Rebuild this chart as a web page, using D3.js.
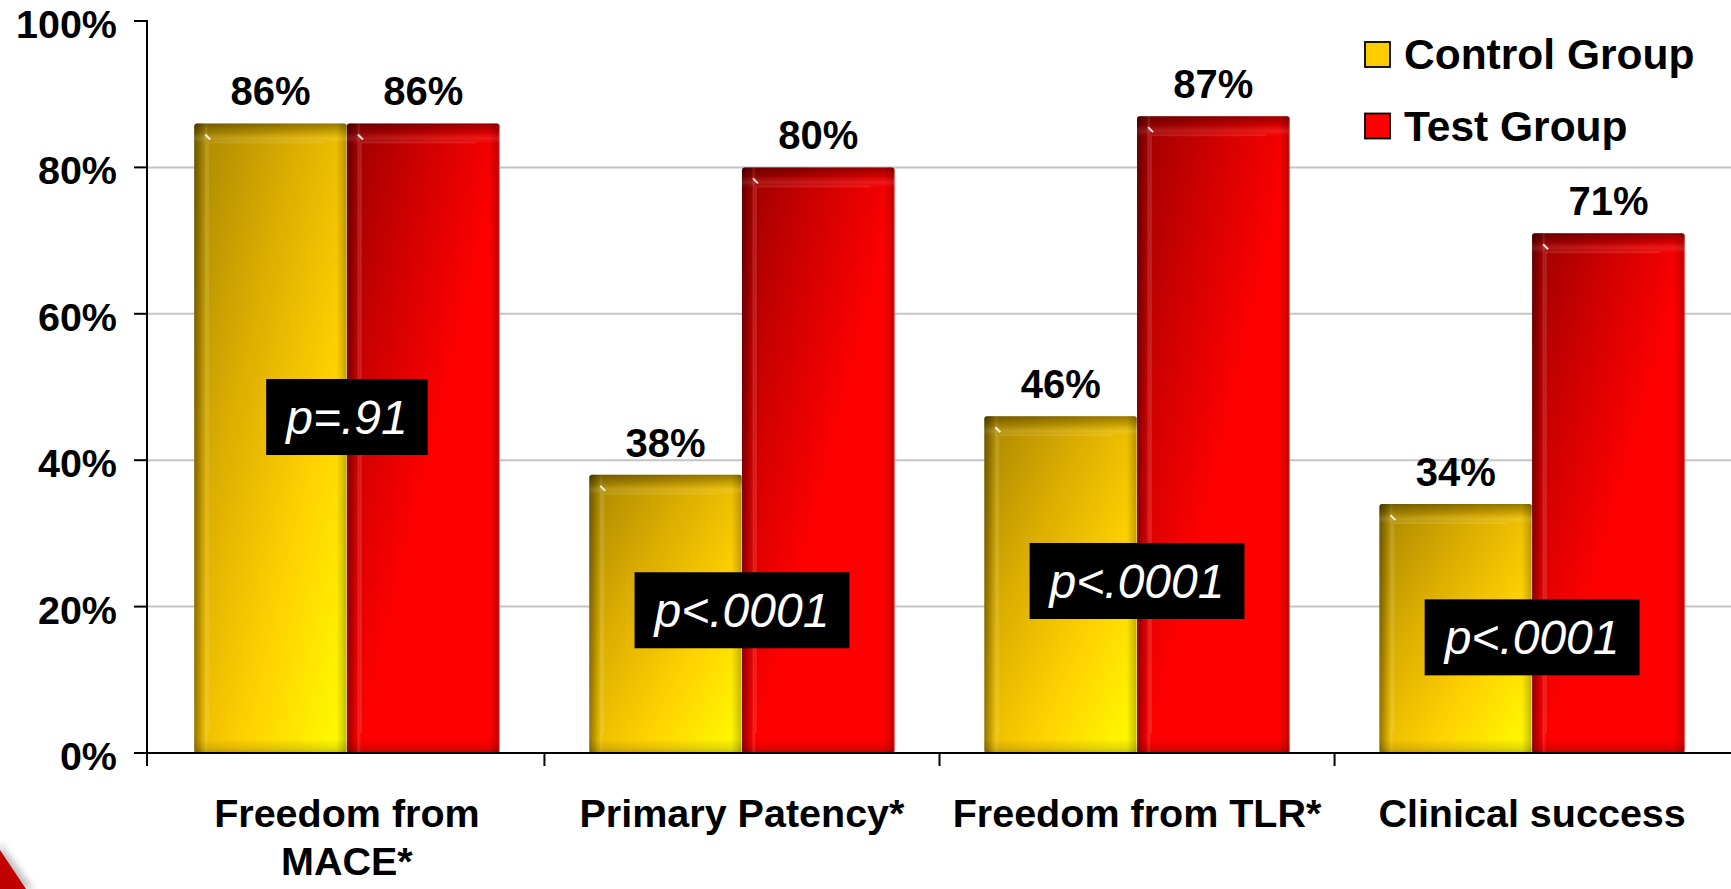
<!DOCTYPE html>
<html>
<head>
<meta charset="utf-8">
<script src="https://cdn.jsdelivr.net/npm/d3@7/dist/d3.min.js"></script>
<style>
  html, body { margin: 0; padding: 0; background: #fff; }
  svg { display: block; font-family: "Liberation Sans", Arial, Helvetica, sans-serif; }
</style>
</head>
<body>
<svg id="chart" width="1731" height="889"></svg>
<script>
// Outcome categories and percentages per group
const categories = [["Freedom from", "MACE*"], ["Primary Patency*"], ["Freedom from TLR*"], ["Clinical success"]];
const seriesNames = ["Control Group", "Test Group"];
const controlValues = [86, 38, 46, 34];
const testValues = [86, 80, 87, 71];
const yTicks = [0, 20, 40, 60, 80, 100];
const gridTicks = [20, 40, 60, 80];
const pLabels = [{ p: "p", rest: "=.91" }, { p: "p", rest: "<.0001" }, { p: "p", rest: "<.0001" }, { p: "p", rest: "<.0001" }];
// vertical level (in % units) at which each p-value box is centred
const pBoxLevel = [45.9, 19.5, 23.5, 15.8];

const W = 1731, H = 889;
const svg = d3.select("#chart");
const FONT = '"Liberation Sans", Arial, Helvetica, sans-serif';

const plotLeft = 147, plotRight = 1731, plotTop = 21, plotBottom = 753;
const y = d3.scaleLinear().domain([0, 100]).range([plotBottom, plotTop]);
const catKeys = categories.map(c => c.join(" "));
const x0 = d3.scaleBand().domain(catKeys).range([plotLeft + 1, plotRight]).paddingInner(0.227).paddingOuter(0.117);
const x1 = d3.scaleBand().domain(seriesNames).range([0, x0.bandwidth()]).padding(0);

// ---------- gradients ----------
const defs = svg.append("defs");
function linGrad(id, ax, ay, bx, by, stops) {
  const g = defs.append("linearGradient").attr("id", id)
    .attr("x1", ax).attr("y1", ay).attr("x2", bx).attr("y2", by);
  stops.forEach(s => g.append("stop").attr("offset", s[0]).attr("stop-color", s[1]).attr("stop-opacity", s[2] == null ? 1 : s[2]));
}
linGrad("baseControl", 0, 0, 1, 1, [[0, "#a88600"], [0.35, "#dcae00"], [0.65, "#ffd000"], [1, "#ffff00"]]);
linGrad("baseTest", 0, 0, 1, 1, [[0, "#9a0000"], [0.3, "#d40000"], [0.55, "#ff0000"], [1, "#ff0000"]]);
linGrad("sideShade", 0, 0, 1, 0, [
  [0, "#000", 0.38], [0.035, "#000", 0.2], [0.06, "#000", 0.05], [0.075, "#fff", 0.14], [0.095, "#fff", 0],
  [0.93, "#000", 0], [0.965, "#000", 0.12], [0.99, "#000", 0.22], [1, "#fff", 0.25]]);
linGrad("topShade", 0, 0, 0, 1, [[0, "#000", 0.35], [0.45, "#000", 0.12], [0.75, "#fff", 0.1], [1, "#fff", 0]]);
linGrad("bottomShade", 0, 0, 0, 1, [[0, "#000", 0], [0.6, "#000", 0.1], [1, "#000", 0.22]]);

defs.append("filter").attr("id", "soft").attr("x", "-50%").attr("y", "-50%").attr("width", "200%").attr("height", "200%")
  .append("feGaussianBlur").attr("stdDeviation", 3);

// ---------- decorative swoosh at lower-left corner ----------
svg.append("path").attr("d", "M0,842 Q14,862 34,889 L0,889 Z").attr("fill", "#888").attr("opacity", 0.5).attr("filter", "url(#soft)");
svg.append("path").attr("d", "M0,850 Q12,868 26,889 L0,889 Z").attr("fill", "#c00000");

// ---------- gridlines ----------
svg.append("g").selectAll("line").data(gridTicks).join("line")
  .attr("x1", plotLeft).attr("x2", W).attr("y1", d => y(d)).attr("y2", d => y(d))
  .attr("stroke", "#c4c4c4").attr("stroke-width", 2);

// ---------- bars ----------
const rows = catKeys.map((k, i) => ({ key: k, vals: [controlValues[i], testValues[i]] }));
const groups = svg.append("g").selectAll("g").data(rows).join("g")
  .attr("transform", d => `translate(${x0(d.key)},0)`);

const bars = groups.selectAll("g.bar").data(d => d.vals.map((v, j) => ({ v, s: seriesNames[j], j }))).join("g")
  .attr("class", "bar")
  .attr("transform", d => `translate(${x1(d.s)},${y(d.v)})`);

const bw = x1.bandwidth();
const barH = d => y(0) - y(d.v);
bars.append("rect").attr("width", bw).attr("height", barH).attr("rx", 3)
  .attr("fill", d => d.j === 0 ? "url(#baseControl)" : "url(#baseTest)");
bars.append("rect").attr("width", bw).attr("height", barH).attr("rx", 3).attr("fill", "url(#sideShade)");
bars.append("rect").attr("width", bw).attr("height", 20).attr("rx", 3).attr("fill", "url(#topShade)");
bars.append("rect").attr("y", d => barH(d) - 14).attr("width", bw).attr("height", 14).attr("fill", "url(#bottomShade)");
// inner bevel highlight lines
bars.append("line").attr("x1", 14).attr("x2", bw - 24).attr("y1", 19).attr("y2", 19)
  .attr("stroke", "#fff").attr("stroke-opacity", 0.1).attr("stroke-width", 2);
bars.append("line").attr("x1", 14).attr("x2", 14).attr("y1", 19).attr("y2", d => barH(d) - 20)
  .attr("stroke", "#fff").attr("stroke-opacity", 0.1).attr("stroke-width", 2);
// specular glint at the top-left corner
bars.append("line").attr("x1", 11).attr("y1", 11).attr("x2", 16).attr("y2", 16)
  .attr("stroke", "#fff").attr("stroke-opacity", 0.85).attr("stroke-width", 2);

// value labels
bars.append("text")
  .attr("x", bw / 2).attr("y", -18).attr("text-anchor", "middle")
  .attr("font-family", FONT).attr("font-weight", "bold").attr("font-size", 40).attr("fill", "#000")
  .text(d => d.v + "%");

// ---------- axes ----------
const axisG = svg.append("g");
axisG.append("line").attr("x1", plotLeft).attr("x2", plotLeft).attr("y1", plotTop - 1).attr("y2", plotBottom + 13)
  .attr("stroke", "#000").attr("stroke-width", 2);
axisG.append("line").attr("x1", plotLeft - 13).attr("x2", W).attr("y1", plotBottom).attr("y2", plotBottom)
  .attr("stroke", "#000").attr("stroke-width", 2);
axisG.selectAll("line.yt").data(yTicks).join("line").attr("class", "yt")
  .attr("x1", plotLeft - 13).attr("x2", plotLeft).attr("y1", d => y(d)).attr("y2", d => y(d))
  .attr("stroke", "#000").attr("stroke-width", 2);
axisG.selectAll("text.yl").data(yTicks).join("text").attr("class", "yl")
  .attr("x", 117).attr("y", d => y(d) + 17).attr("text-anchor", "end")
  .attr("font-family", FONT).attr("font-weight", "bold").attr("font-size", 39.5).attr("fill", "#000")
  .text(d => d + "%");
// category boundary ticks
const bounds = catKeys.slice(1).map(k => x0(k) - x0.step() * x0.paddingInner() / 2);
axisG.selectAll("line.xt").data(bounds).join("line").attr("class", "xt")
  .attr("x1", d => d).attr("x2", d => d).attr("y1", plotBottom).attr("y2", plotBottom + 13)
  .attr("stroke", "#000").attr("stroke-width", 2);

// category labels
const catLab = svg.append("g").selectAll("text").data(categories).join("text")
  .attr("text-anchor", "middle")
  .attr("font-family", FONT).attr("font-weight", "bold").attr("font-size", 39.5).attr("fill", "#000")
  .attr("transform", (d, i) => `translate(${x0(catKeys[i]) + x0.bandwidth() / 2},827)`);
catLab.selectAll("tspan").data(d => d).join("tspan")
  .attr("x", 0).attr("dy", (d, i) => i === 0 ? 0 : 48).text(d => d);

// ---------- p-value boxes ----------
pLabels.forEach((pl, i) => {
  const cx = x0(catKeys[i]) + x0.bandwidth() / 2;
  const cy = y(pBoxLevel[i]);
  const g = svg.append("g");
  const rect = g.append("rect").attr("fill", "#000");
  const t = g.append("text").attr("x", cx).attr("y", cy + 17).attr("text-anchor", "middle")
    .attr("font-family", FONT).attr("font-style", "italic").attr("font-size", 48).attr("fill", "#fff");
  t.append("tspan").text(pl.p);
  t.append("tspan").text(pl.rest);
  const tw = t.node().getComputedTextLength();
  const bwid = tw + 40;
  rect.attr("x", cx - bwid / 2).attr("y", cy - 38).attr("width", bwid).attr("height", 76);
});

// ---------- legend ----------
const legendColors = ["#ffcc00", "#ff0000"];
const leg = svg.append("g").selectAll("g").data(seriesNames).join("g")
  .attr("transform", (d, i) => `translate(1365,${42 + i * 71.5})`);
leg.append("rect").attr("width", 25).attr("height", 25)
  .attr("fill", (d, i) => legendColors[i]).attr("stroke", "#000").attr("stroke-width", 1.8);
leg.append("text").attr("x", 39).attr("y", 27)
  .attr("font-family", FONT).attr("font-weight", "bold").attr("font-size", 42.5).attr("fill", "#000")
  .text(d => d);
</script>
</body>
</html>
